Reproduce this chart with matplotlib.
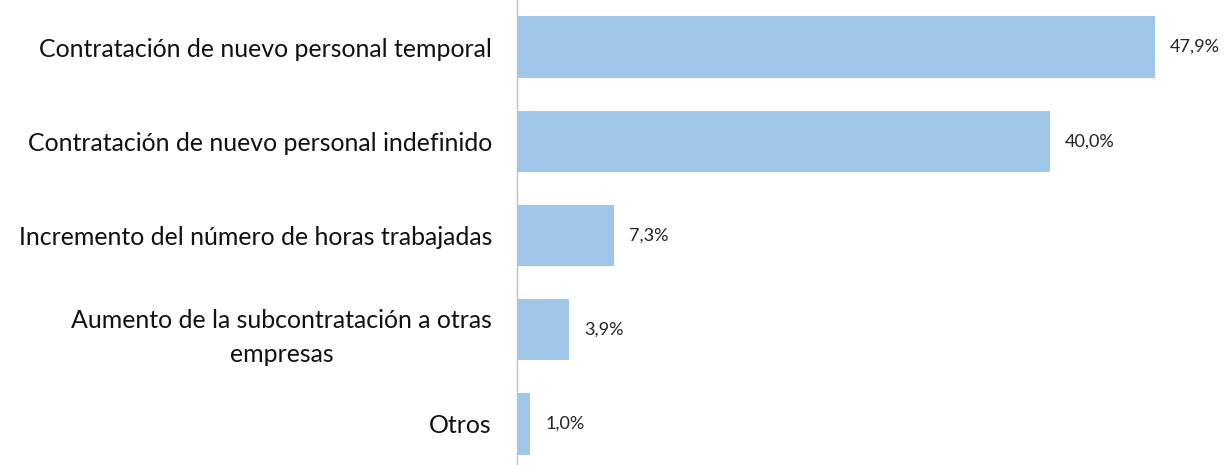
import matplotlib.pyplot as plt

# datos
categorias = [
    "Contratación de nuevo personal temporal",
    "Contratación de nuevo personal indefinido",
    "Incremento del número de horas trabajadas",
    "Aumento de la subcontratación a otras\nempresas",
    "Otros",
]
valores = [47.9, 40.0, 7.3, 3.9, 1.0]
etiquetas = ["47,9%", "40,0%", "7,3%", "3,9%", "1,0%"]

plt.rcParams['font.family'] = ['Lato', 'DejaVu Sans']

fig = plt.figure(figsize=(12.28, 4.65), dpi=100)
ax = fig.add_axes([517 / 1228, -6 / 465, 1 - 517 / 1228, 471 / 465])

y = list(range(len(categorias)))
ax.barh(y, valores, height=0.65, color="#9FC5E8")

for i, (v, t) in enumerate(zip(valores, etiquetas)):
    ax.annotate(t, (v, i), xytext=(11, 0), textcoords="offset points",
                va="center", ha="left", fontsize=13, color="#222222")

ax.set_ylim(4.5, -0.5)
ax.set_xlim(0, 53.4)
ax.set_yticks(y)
ax.set_yticklabels(categorias, fontsize=17.9, color="#111111",
                   multialignment="center", linespacing=1.6)
ax.tick_params(axis="y", length=0, pad=18)
ax.set_xticks([])

for s in ["top", "right", "bottom"]:
    ax.spines[s].set_visible(False)
ax.spines["left"].set_color("#C0C0C0")
ax.spines["left"].set_linewidth(1)

fig.savefig("out.png", dpi=100)
